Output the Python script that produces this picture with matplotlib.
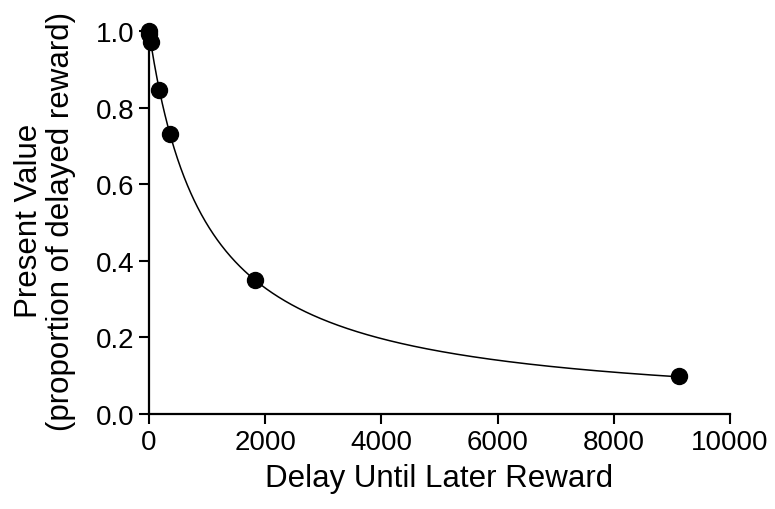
import numpy as np
import matplotlib
matplotlib.use("Agg")
import matplotlib.pyplot as plt

plt.rcParams['font.family'] = ['Liberation Sans', 'DejaVu Sans']

# Data
delays = [1, 7, 30, 180, 365, 1825, 9125]
values = [1.00, 0.993, 0.97, 0.845, 0.73, 0.35, 0.10]
# hyperbolic fit parameter V = 1/(1+kD)
k_fit = 0.00102

x_ticks = [0, 2000, 4000, 6000, 8000, 10000]
y_ticks = [0.0, 0.2, 0.4, 0.6, 0.8, 1.0]

W, H = 775, 510
fig = plt.figure(figsize=(W / 100, H / 100), dpi=100)
ax = fig.add_axes([149 / W, 95 / H, 581 / W, 383 / H])

xs = np.linspace(0, 9125, 800)
ax.plot(xs, 1.0 / (1.0 + k_fit * xs), color='black', lw=1.1, zorder=2)
ax.plot(delays, values, 'o', color='black', ms=11.5, zorder=3, clip_on=False)

ax.set_xlim(0, 10000)
ax.set_ylim(0, 1.0)
ax.set_xticks(x_ticks)
ax.set_yticks(y_ticks)
ax.set_xticklabels([str(t) for t in x_ticks])
ax.set_yticklabels([f"{t:.1f}" for t in y_ticks])

for s in ['top', 'right']:
    ax.spines[s].set_visible(False)
for s in ['left', 'bottom']:
    ax.spines[s].set_linewidth(1.6)
ax.tick_params(axis='both', direction='out', length=7.5, width=1.5, labelsize=20, pad=3)

ax.set_xlabel("Delay Until Later Reward", fontsize=22.5, labelpad=6)
fig.text(45 / W, (H - 221) / H, "Present Value\n(proportion of delayed reward)",
         rotation=90, ha='center', va='center', fontsize=22.5, linespacing=1.1,
         multialignment='center')

fig.savefig("out.png", dpi=100)
